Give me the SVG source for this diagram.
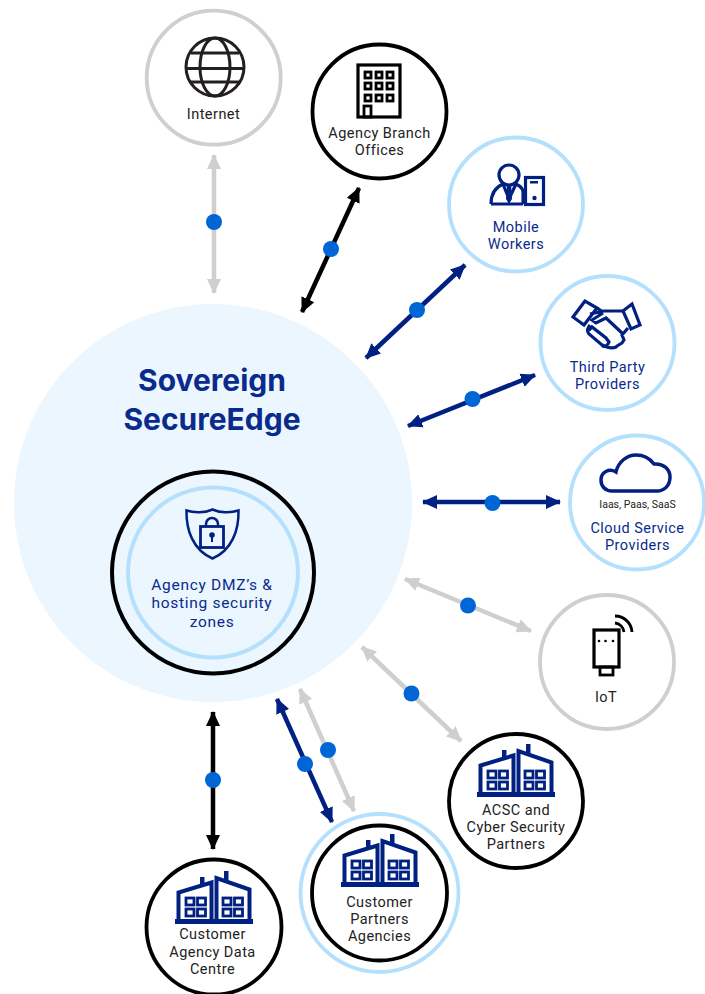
<svg xmlns="http://www.w3.org/2000/svg" xmlns:xlink="http://www.w3.org/1999/xlink" width="705" height="994" viewBox="0 0 705 994">
<style>
text{font-family:"Roboto","Liberation Sans",sans-serif;font-size:14.500px;letter-spacing:.45px;text-anchor:middle}
.dk{fill:#222222}.nv{fill:#0a2a8c}
.ring{fill:#fff;stroke-width:3.800}
.g{stroke:#cfcfcf}.k{stroke:#000}.b{stroke:#b5e0fd}
.ic{fill:none;stroke:#231f20;stroke-width:3}
.icn{fill:none;stroke:#002082;stroke-width:3.200}
.l{fill:none;stroke-width:4.500}
.dot{fill:#0066d6}
.dz{font-size:15.500px;letter-spacing:.7px}
.ttl{font-family:Inter,"Liberation Sans",sans-serif;font-size:30px;letter-spacing:0;font-weight:700;fill:#0a2a8c}
</style>
<defs>
<marker id="mg" viewBox="0 0 16 16" refX="14" refY="8" markerWidth="16" markerHeight="16" markerUnits="userSpaceOnUse" orient="auto-start-reverse"><path d="M0 1 L15 8 L0 15 Z" fill="#cfcfcf"/></marker>
<marker id="mk" viewBox="0 0 16 16" refX="14" refY="8" markerWidth="16" markerHeight="16" markerUnits="userSpaceOnUse" orient="auto-start-reverse"><path d="M0 1 L15 8 L0 15 Z" fill="#000"/></marker>
<marker id="mn" viewBox="0 0 16 16" refX="14" refY="8" markerWidth="16" markerHeight="16" markerUnits="userSpaceOnUse" orient="auto-start-reverse"><path d="M0 1 L15 8 L0 15 Z" fill="#002082"/></marker>
<g id="bld">
<rect x="175" y="919" width="78" height="5" fill="#002082"/>
<path d="M178.500 921V892.500L211.500 882.500V921M216.500 921V878L249.500 889.500V921" fill="none" stroke="#002082" stroke-width="4"/>
<rect x="200" y="877" width="4.500" height="8" fill="#002082"/><rect x="224" y="871" width="4.500" height="10" fill="#002082"/>
<g fill="none" stroke="#002082" stroke-width="2.800"><rect x="186" y="898" width="8" height="7"/><rect x="197.500" y="898" width="8" height="7"/><rect x="186" y="909" width="8" height="7"/><rect x="197.500" y="909" width="8" height="7"/><rect x="223" y="898" width="8" height="7"/><rect x="234.500" y="898" width="8" height="7"/><rect x="223" y="909" width="8" height="7"/><rect x="234.500" y="909" width="8" height="7"/></g>
</g>
</defs>
<g id="sovereign">
<circle cx="213" cy="503" r="199" fill="#ebf6fe"/>
<text class="ttl" x="212" y="391">Sovereign</text>
<text class="ttl" x="212" y="430">SecureEdge</text>
</g>
<g id="dmz">
<circle cx="213" cy="572.500" r="101" fill="none" stroke="#000" stroke-width="4"/>
<circle cx="213" cy="572.500" r="85" fill="none" stroke="#b5e0fd" stroke-width="4"/>
<path class="icn" d="M186.500 510.500C194 513 205 513 212.500 509.500C220 513 231 513 238.500 510.500C239 530 232 550 212.500 558.500C193 550 186 530 186.500 510.500Z" style="stroke-width:2.500"/>
<rect class="icn" x="200.500" y="526.500" width="23" height="21" style="stroke-width:2.800"/>
<path class="icn" d="M206 526V524A6 6 0 0 1 218 524V526" style="stroke-width:2.500"/>
<circle cx="212" cy="535" r="2.800" fill="#002082"/><rect x="211" y="535" width="2" height="7" fill="#002082"/>
<text class="nv dz" x="212" y="589.500">Agency DMZ’s &amp;</text>
<text class="nv dz" x="212" y="608">hosting security</text>
<text class="nv dz" x="212" y="626.500">zones</text>
</g>
<g id="connectors">
<line class="l g" x1="214" y1="155" x2="214" y2="293" marker-start="url(#mg)" marker-end="url(#mg)"/>
<line class="l k" x1="359" y1="188" x2="302" y2="312" marker-start="url(#mk)" marker-end="url(#mk)"/>
<line class="l" stroke="#002082" x1="465" y1="265" x2="366" y2="358" marker-start="url(#mn)" marker-end="url(#mn)"/>
<line class="l" stroke="#002082" x1="535" y1="375" x2="408" y2="426" marker-start="url(#mn)" marker-end="url(#mn)"/>
<line class="l" stroke="#002082" x1="423" y1="502" x2="560" y2="502" marker-start="url(#mn)" marker-end="url(#mn)"/>
<line class="l g" x1="405" y1="579" x2="531" y2="631" marker-start="url(#mg)" marker-end="url(#mg)"/>
<line class="l g" x1="362" y1="647" x2="461" y2="741" marker-start="url(#mg)" marker-end="url(#mg)"/>
<line class="l k" x1="213" y1="712" x2="213" y2="849" marker-start="url(#mk)" marker-end="url(#mk)"/>
<line class="l g" x1="300" y1="689" x2="354" y2="811" marker-start="url(#mg)" marker-end="url(#mg)"/>
<line class="l" stroke="#002082" x1="277" y1="699" x2="332" y2="822" marker-start="url(#mn)" marker-end="url(#mn)"/>
<circle class="dot" cx="214" cy="222" r="8"/><circle class="dot" cx="331" cy="249" r="8"/><circle class="dot" cx="417" cy="310" r="8"/><circle class="dot" cx="472.500" cy="399" r="8"/><circle class="dot" cx="492.500" cy="503" r="8"/><circle class="dot" cx="468" cy="605.500" r="8"/><circle class="dot" cx="411.500" cy="693.500" r="8"/><circle class="dot" cx="213" cy="780" r="8"/><circle class="dot" cx="328" cy="750" r="8"/><circle class="dot" cx="305" cy="764" r="8"/>
</g>
<g id="internet">
<circle class="ring g" cx="213.700" cy="77.700" r="67"/>
<circle class="ic" cx="215" cy="67" r="29"/><ellipse class="ic" cx="215" cy="67" rx="15" ry="29"/>
<path class="ic" d="M191 53H239M186 68.500H244M191 82H239"/>
<text class="dk" x="213.500" y="119">Internet</text>
</g>
<g id="branch">
<circle class="ring k" cx="379.500" cy="111.500" r="67"/>
<rect class="ic" x="358" y="65" width="42" height="52" style="stroke:#000;stroke-width:3.200"/>
<g class="ic" style="stroke:#000;stroke-width:2.800"><rect x="365" y="72" width="6" height="6"/><rect x="376" y="72" width="6" height="6"/><rect x="387" y="72" width="6" height="6"/><rect x="365" y="83" width="6" height="6"/><rect x="376" y="83" width="6" height="6"/><rect x="387" y="83" width="6" height="6"/><rect x="365" y="95" width="6" height="6"/><rect x="376" y="95" width="6" height="6"/><rect x="387" y="95" width="6" height="6"/><rect x="364" y="106" width="7" height="11"/></g>
<text class="dk" x="379.500" y="138">Agency Branch</text>
<text class="dk" x="379.500" y="155">Offices</text>
</g>
<g id="mobile">
<circle class="ring b" cx="516" cy="204.500" r="67"/>
<circle class="icn" cx="509" cy="175" r="10"/>
<path class="icn" d="M491 204C491 193 496 187 503 184L509 199L516 184C520 186 523 188 523 192V204M491 204H523" />
<path d="M507 184H511L512 199L509 204L506 199Z" fill="#002082"/>
<rect class="icn" x="525.500" y="177.500" width="18" height="27"/>
<rect x="530" y="181" width="8" height="2.500" fill="#002082"/><circle cx="534.500" cy="198" r="2.200" fill="#002082"/>
<text class="nv" x="516" y="232">Mobile</text>
<text class="nv" x="516" y="249">Workers</text>
</g>
<g id="third-party">
<circle class="ring b" cx="607.500" cy="343" r="67"/>
<path class="icn" d="M585 301L573 317L584 325L597 308ZM632 304L623 311L631 329L640 325Z"/>
<path class="icn" d="M590 314L604 311L623 311M628 328L622 335L624 340C622 345 618 344 616 347C612 349 606 347 602 345L589 334C586 330 588 328 590 325M597 308L603 312M603 313L592 320L596 323L606 318L622 333M589 330L592 327L606 338L609 342C607 347 603 347 602 345"/>
<text class="nv" x="607.500" y="372">Third Party</text>
<text class="nv" x="607.500" y="389">Providers</text>
</g>
<g id="cloud">
<circle class="ring b" cx="637" cy="502.500" r="67"/>
<path class="icn" style="stroke-width:3.500" d="M612 491C605 491 601 486 601 480C601 472 609 468 616 472C618 462 627 455 636 455C646 455 651 460 654 464C663 463 670 469 670 477C670 486 664 491 657 491Z"/>
<text class="dk" x="637.500" y="508" style="font-size:10.500px;letter-spacing:0">Iaas, Paas, SaaS</text>
<text class="nv" x="637.500" y="533">Cloud Service</text>
<text class="nv" x="637.500" y="550">Providers</text>
</g>
<g id="iot">
<circle class="ring g" cx="607" cy="662" r="67"/>
<rect class="ic" x="594" y="630" width="25" height="37" style="stroke:#000;stroke-width:3.200"/>
<rect class="ic" x="600" y="667" width="13" height="8" style="stroke:#000;stroke-width:2.800"/>
<circle cx="599" cy="641" r="1.300" fill="#000"/><circle cx="605.500" cy="641" r="1.300" fill="#000"/><circle cx="613" cy="641" r="1.300" fill="#000"/>
<path class="ic" d="M615 623A10 10 0 0 1 624 632M615 616A17 17 0 0 1 632 632" style="stroke:#000;stroke-width:2.800"/>
<text class="dk" x="606" y="702">IoT</text>
</g>
<g id="acsc">
<circle class="ring k" cx="516" cy="801" r="67"/>
<use xlink:href="#bld" href="#bld" x="302" y="-127"/>
<text class="dk" x="516" y="815">ACSC and</text>
<text class="dk" x="516" y="832">Cyber Security</text>
<text class="dk" x="516" y="849">Partners</text>
</g>
<g id="partners">
<circle cx="379.500" cy="893" r="79" fill="#fff" stroke="#b5e0fd" stroke-width="3.800"/>
<circle class="ring k" cx="379.500" cy="893" r="67.500"/>
<use xlink:href="#bld" href="#bld" x="166" y="-37"/>
<text class="dk" x="379.500" y="907">Customer</text>
<text class="dk" x="379.500" y="924">Partners</text>
<text class="dk" x="379.500" y="941">Agencies</text>
</g>
<g id="datacentre">
<circle class="ring k" cx="214" cy="927" r="67.500"/>
<use xlink:href="#bld" href="#bld"/>
<text class="dk" x="212.500" y="939">Customer</text>
<text class="dk" x="212.500" y="957">Agency Data</text>
<text class="dk" x="212.500" y="974">Centre</text>
</g>
</svg>
